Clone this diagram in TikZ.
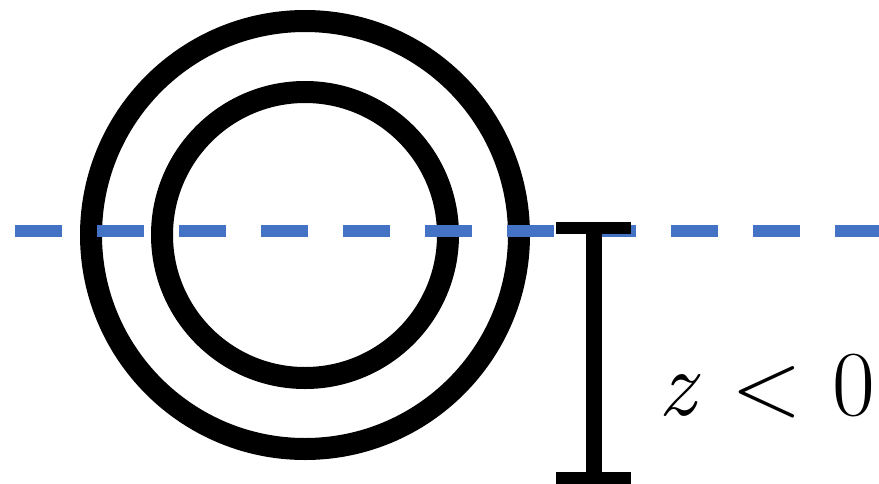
\documentclass[tikz,border=0pt]{standalone}
\definecolor{axisblue}{RGB}{68, 114, 196}
\usepackage{tikz}
\usetikzlibrary{positioning, calc}

\begin{document}
\begin{tikzpicture}[x=1pt, y=-1pt,
            ring/.style={draw, circle, line width=22pt, inner sep=0pt},
            axisline/.style={draw=axisblue, line width=12pt, dash pattern=on 47pt off 35pt},
            bar/.style={draw, line width=16pt},
            barcap/.style={draw, line width=12pt}]
          \useasboundingbox (0,0) rectangle (879,483);
          \node[ring, minimum size=428pt] (outer) at (305,235) {};
          \node[ring, minimum size=286pt] (inner) at (305,235) {};
          \coordinate (axl) at (15,231);
          \coordinate (axr) at (879,231);
          \draw[axisline] (axl) -- (axr);
          \coordinate (top) at (594,228);
          \coordinate (bot) at (594,478);
          \draw[bar] (top) -- (bot);
          \draw[barcap] ($(top)+(-38,0)$) -- ($(top)+(37,0)$);
          \draw[barcap] ($(bot)+(-38,0)$) -- ($(bot)+(37,0)$);
          \node[anchor=base west, inner sep=0pt, font=\fontsize{93}{93}\selectfont] (lbl) at (658,415) {\textit{z}\hspace{0.33em}<\hspace{0.33em}0};
        \end{tikzpicture}
\end{document}
